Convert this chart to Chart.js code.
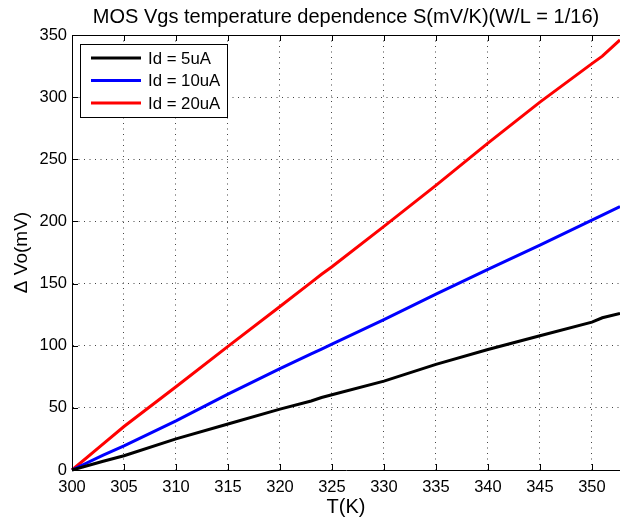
<!DOCTYPE html>
<html>
<head>
<meta charset="utf-8">
<script src="https://cdn.jsdelivr.net/npm/chart.js@4/dist/chart.umd.min.js"></script>
<style>
  html, body { margin: 0; padding: 0; background: #fff; }
  #wrap { width: 620px; height: 522px; }
</style>
</head>
<body>
<div id="wrap"><canvas id="chart" width="620" height="522"></canvas></div>
<script>
// temperatures (K) and Vgs shift (mV)
const temps = [300, 303, 305, 310, 315, 320, 323, 324, 325, 330, 335, 340, 345, 350, 351, 352.7];
const id5uA  = [0, 7, 11.5, 25, 37, 49, 55.5, 58.3, 60.5, 71.5, 85, 97, 108, 119, 122.5, 126];
const id10uA = [0, 12, 19.5, 39.5, 61, 81.5, 93.5, 97.3, 101.2, 121, 141.5, 161.5, 181, 201, 205, 212];
const id20uA = [0, 21, 35, 67, 99.5, 131.5, 151, 157.5, 163.5, 196, 229, 263, 296, 327, 333, 346];

const seriesLabels = ["Id = 5uA", "Id = 10uA", "Id = 20uA"];
const seriesColors = ["#000000", "#0000ff", "#ff0000"];
const xTicks = [300, 305, 310, 315, 320, 325, 330, 335, 340, 345, 350];
const yTicks = [0, 50, 100, 150, 200, 250, 300, 350];

const FONT = "'Liberation Sans', Arial, Helvetica, sans-serif";

function toPoints(vals) {
  return temps.map((t, i) => ({ x: t, y: vals[i] }));
}

// MATLAB style: box on top, inward ticks, legend inside the axes
const matlabFrame = {
  id: "matlabFrame",
  afterDraw(chart) {
    const ctx = chart.ctx;
    const a = chart.chartArea;
    const xs = chart.scales.x, ys = chart.scales.y;
    ctx.save();
    ctx.strokeStyle = "#000";
    ctx.lineWidth = 1;
    ctx.beginPath();
    ctx.moveTo(a.left, a.top + 0.5);
    ctx.lineTo(a.right, a.top + 0.5);
    xTicks.forEach(v => {
      const px = Math.round(xs.getPixelForValue(v)) + 0.5;
      ctx.moveTo(px, a.bottom); ctx.lineTo(px, a.bottom - 6);
      ctx.moveTo(px, a.top); ctx.lineTo(px, a.top + 6);
    });
    yTicks.forEach(v => {
      const py = Math.round(ys.getPixelForValue(v)) + 0.5;
      ctx.moveTo(a.left, py); ctx.lineTo(a.left + 6, py);
    });
    ctx.stroke();

    // legend
    const lx = 80, ly = 44, lw = 147, lh = 73;
    ctx.fillStyle = "#fff";
    ctx.fillRect(lx, ly, lw, lh);
    ctx.strokeRect(lx + 0.5, ly + 0.5, lw, lh);
    ctx.font = "16.8px " + FONT;
    ctx.textBaseline = "middle";
    chart.data.datasets.forEach((ds, i) => {
      const y = ly + 14 + i * 22.5;
      ctx.strokeStyle = ds.borderColor;
      ctx.lineWidth = 3;
      ctx.beginPath();
      ctx.moveTo(91, y); ctx.lineTo(141, y);
      ctx.stroke();
      ctx.fillStyle = "#000";
      ctx.fillText(ds.label, 148, y + 1);
    });
    ctx.restore();
  }
};

new Chart(document.getElementById("chart"), {
  type: "line",
  data: {
    datasets: [id5uA, id10uA, id20uA].map((vals, i) => ({
      label: seriesLabels[i],
      data: toPoints(vals),
      borderColor: seriesColors[i],
      backgroundColor: seriesColors[i],
      borderWidth: 3,
      pointRadius: 0,
      tension: 0,
      clip: 2
    }))
  },
  options: {
    responsive: false,
    animation: false,
    layout: { padding: 0 },
    plugins: {
      legend: { display: false },
      tooltip: { enabled: false },
      title: {
        display: true,
        fullSize: false,
        text: "MOS Vgs temperature dependence S(mV/K)(W/L = 1/16)",
        color: "#000",
        font: { family: FONT, size: 20, weight: "normal" },
        padding: { top: 5, bottom: 6 }
      }
    },
    scales: {
      x: {
        type: "linear",
        min: 300,
        max: 352.7,
        afterFit: s => { s.height = 52; },
        afterBuildTicks: s => { s.ticks = xTicks.map(v => ({ value: v })); },
        ticks: {
          color: "#000",
          font: { family: FONT, size: 16.5 },
          padding: 8,
          maxRotation: 0,
          autoSkip: false
        },
        grid: {
          drawTicks: false,
          color: "#444",
          lineWidth: 1
        },
        border: { display: true, color: "#000", width: 1, dash: [1, 4.5] },
        title: {
          display: true,
          text: "T(K)",
          color: "#000",
          font: { family: FONT, size: 20 },
          padding: { bottom: 3 }
        }
      },
      y: {
        min: 0,
        max: 350,
        afterFit: s => { s.width = 72; },
        afterBuildTicks: s => { s.ticks = yTicks.map(v => ({ value: v })); },
        ticks: {
          color: "#000",
          font: { family: FONT, size: 16.5 },
          padding: 5
        },
        grid: {
          drawTicks: false,
          color: "#444",
          lineWidth: 1
        },
        border: { display: true, color: "#000", width: 1, dash: [1, 4.5] },
        title: {
          display: true,
          text: "Δ Vo(mV)",
          color: "#000",
          font: { family: FONT, size: 19 },
          padding: { top: 10 }
        }
      }
    }
  },
  plugins: [matlabFrame]
});
</script>
</body>
</html>
